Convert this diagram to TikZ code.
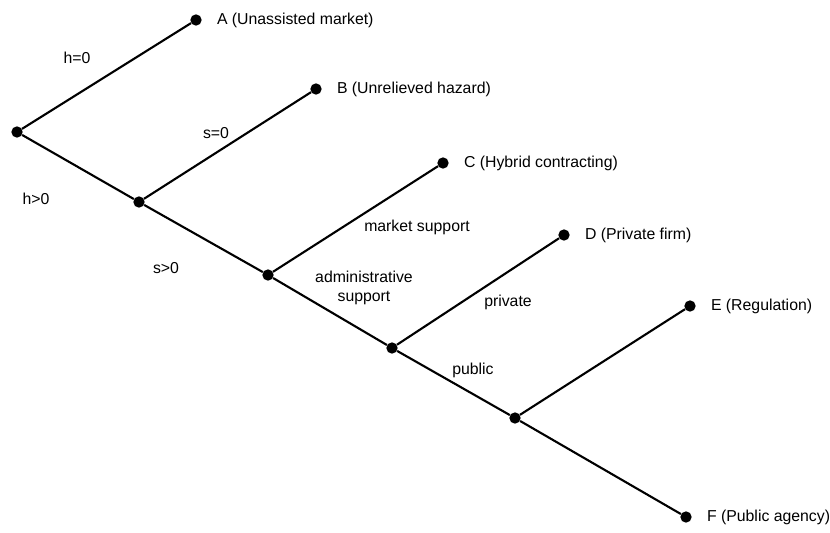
\documentclass[tikz,border=0pt]{standalone}
\usepackage{fontspec}
\setmainfont{Liberation Sans}
\usetikzlibrary{positioning}

\begin{document}
\begin{tikzpicture}[x=0.03cm,y=-0.03cm,node distance=0.33cm,
  font=\fontsize{13.5}{16.5}\selectfont,
  dot/.style={circle,fill,inner sep=0pt,minimum size=0.34cm},
  branch/.style={line width=1.8pt}]
\useasboundingbox (0,0) rectangle (830,533);

\node(r)[dot] at (17,132){};
\node(n1)[dot] at (139,202){};
\node(n2)[dot] at (268,275){};
\node(n3)[dot] at (392,348){};
\node(n4)[dot] at (515,418){};

\node(a)[dot] at (196,20){};
\node(b)[dot] at (316,89){};
\node(c)[dot] at (443,163){};
\node(d)[dot] at (564,235){};
\node(e)[dot] at (690,306){};
\node(f)[dot] at (686,517){};

\node(la)[right=of a]{A (Unassisted market)};
\node(lb)[right=of b]{B (Unrelieved hazard)};
\node(lc)[right=of c]{C (Hybrid contracting)};
\node(ld)[right=of d]{D (Private firm)};
\node(le)[right=of e]{E (Regulation)};
\node(lf)[right=of f]{F (Public agency)};

\draw [branch] (r) -- (a);
\draw [branch] (r) -- (n1);
\draw [branch] (n1) -- (b);
\draw [branch] (n1) -- (n2);
\draw [branch] (n2) -- (c);
\draw [branch] (n2) -- (n3);
\draw [branch] (n3) -- (d);
\draw [branch] (n3) -- (n4);
\draw [branch] (n4) -- (e);
\draw [branch] (n4) -- (f);

\node(h0) at (77,58){h=0};
\node(h1) at (36,199){h>0};
\node(s0) at (216,133){s=0};
\node(s1) at (166,268){s>0};
\node(ms) at (417,227){market support};
\node(as)[align=center] at (364,288){administrative\\support};
\node(pv) at (508,302){private};
\node(pb) at (473,370){public};

\end{tikzpicture}
\end{document}
